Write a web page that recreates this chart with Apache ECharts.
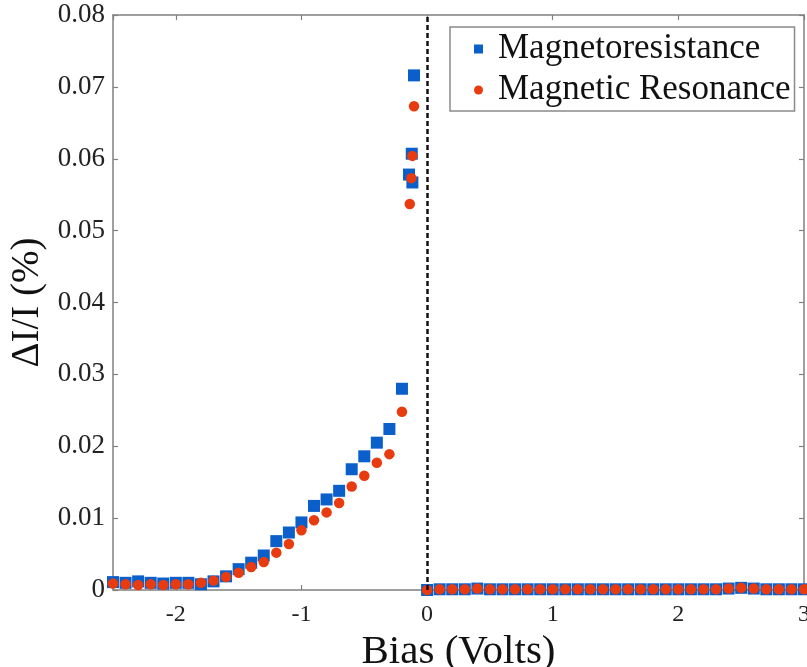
<!DOCTYPE html>
<html><head><meta charset="utf-8">
<script src="https://cdn.jsdelivr.net/npm/echarts@6/dist/echarts.min.js"></script>
<style>html,body{margin:0;padding:0;background:#fff}#c{width:807px;height:667px}</style>
</head><body><div id="c"></div>
<script>
const seriesNames = ['Magnetoresistance', 'Magnetic Resonance'];
const xTitle = 'Bias (Volts)';
const yTitle = 'ΔI/I (%)';
// negative bias, regular 0.1 V steps
const negBias = [-2.5,-2.4,-2.3,-2.2,-2.1,-2.0,-1.9,-1.8,-1.7,-1.6,-1.5,-1.4,-1.3,-1.2,-1.1,-1.0,-0.9,-0.8,-0.7,-0.6,-0.5,-0.4,-0.3,-0.2];
const mrNeg  = [0.0011,0.0010,0.0012,0.0010,0.0009,0.0010,0.0010,0.0008,0.0012,0.0019,0.0029,0.0038,0.0048,0.0068,0.0080,0.0094,0.0117,0.0126,0.0138,0.0168,0.0186,0.0205,0.0224,0.0280];
const resNeg = [0.0009,0.0008,0.0007,0.0008,0.0007,0.0008,0.0008,0.0010,0.0013,0.0018,0.0024,0.0032,0.0039,0.0052,0.0064,0.0083,0.0097,0.0108,0.0121,0.0144,0.0159,0.0177,0.0189,0.0248];
// points close to zero bias
const mrPeakBias  = [-0.104,-0.122,-0.144,-0.117];
const mrPeak      = [0.0716,0.0607,0.0578,0.0567];
const resPeakBias = [-0.104,-0.117,-0.125,-0.138];
const resPeak     = [0.0673,0.0604,0.0573,0.0537];
// positive bias
const posBias = [0,0.1,0.2,0.3,0.4,0.5,0.6,0.7,0.8,0.9,1.0,1.1,1.2,1.3,1.4,1.5,1.6,1.7,1.8,1.9,2.0,2.1,2.2,2.3,2.4,2.5,2.6,2.7,2.8,2.9,3.0];
const mrPos  = [0,0.0001,0.0001,0.0001,0.0002,0.0001,0.0001,0.0001,0.0001,0.0001,0.0001,0.0001,0.0001,0.0001,0.0001,0.0001,0.0001,0.0001,0.0001,0.0001,0.0001,0.0001,0.0001,0.0001,0.0002,0.0003,0.0002,0.0001,0.0001,0.0001,0.0001];
const resPos = [0,0.0001,0.0001,0.0001,0.0002,0.0001,0.0001,0.0001,0.0001,0.0001,0.0001,0.0001,0.0001,0.0001,0.0001,0.0001,0.0001,0.0001,0.0001,0.0001,0.0001,0.0001,0.0001,0.0001,0.0002,0.0003,0.0002,0.0001,0.0001,0.0001,0.0001];

const zip = (xs, ys) => xs.map((x, i) => [x, ys[i]]);
const mrData  = [].concat(zip(negBias, mrNeg), zip(mrPeakBias, mrPeak), zip(posBias, mrPos));
const resData = [].concat(zip(negBias, resNeg), zip(resPeakBias, resPeak), zip(posBias, resPos));

const FONT = 'Liberation Serif';
const AX = '#808080';
const BLUE = '#0a5fca', RED = '#e93b10';

const chart = echarts.init(document.getElementById('c'), null, {renderer: 'canvas'});
const xBase = {type: 'value', min: -2.5, max: 3, splitNumber: 5,
  axisLine: {show: true, onZero: false, lineStyle: {color: AX, width: 1.5}},
  axisTick: {show: true, inside: true, length: 5, lineStyle: {color: AX, width: 1.2}},
  splitLine: {show: false}};
const yBase = {type: 'value', min: 0, max: 0.08, interval: 0.01,
  axisLine: {show: true, onZero: false, lineStyle: {color: AX, width: 1.5}},
  axisTick: {show: true, inside: true, length: 5, lineStyle: {color: AX, width: 1.2}},
  splitLine: {show: false}};

chart.setOption({
  animation: false,
  backgroundColor: '#fff',
  grid: {left: 113, right: 3, top: 15, bottom: 77, containLabel: false, outerBoundsMode: 'none'},
  xAxis: [
    Object.assign({}, xBase, {position: 'bottom',
      name: xTitle, nameLocation: 'middle', nameGap: 33,
      nameTextStyle: {fontFamily: FONT, fontSize: 41, color: '#111'},
      axisLabel: {show: true, showMinLabel: false, margin: 13, fontFamily: FONT, fontSize: 24, color: '#222'}}),
    Object.assign({}, xBase, {position: 'top', axisLabel: {show: false}})
  ],
  yAxis: [
    Object.assign({}, yBase, {position: 'left',
      name: yTitle, nameLocation: 'middle', nameGap: 66, nameRotate: 90,
      nameTextStyle: {fontFamily: FONT, fontSize: 39, color: '#111'},
      axisLabel: {show: true, margin: 8, fontFamily: FONT, fontSize: 27, color: '#222',
        formatter: v => v === 0 ? '0' : v.toFixed(2)}}),
    Object.assign({}, yBase, {position: 'right', axisLabel: {show: false}})
  ],
  legend: {
    show: true, orient: 'vertical', left: 450, top: 27,
    padding: [4, 4, 3, 24],
    borderColor: '#8a8a8a', borderWidth: 1.5, backgroundColor: '#fff',
    itemWidth: 9, itemHeight: 9, itemGap: 5,
    textStyle: {fontFamily: FONT, fontSize: 35, color: '#111', lineHeight: 36, padding: [0, 0, 0, 10]},
    data: [
      {name: seriesNames[0], icon: 'rect'},
      {name: seriesNames[1], icon: 'circle'}
    ]
  },
  series: [
    {name: seriesNames[0], type: 'scatter', symbol: 'rect', symbolSize: 12,
      itemStyle: {color: BLUE, opacity: 1}, data: mrData, z: 2,
      markLine: {silent: true, symbol: ['none', 'none'], label: {show: false},
        lineStyle: {color: '#111', type: [5, 3], width: 2.5},
        data: [{xAxis: 0}]}},
    {name: seriesNames[1], type: 'scatter', symbol: 'circle', symbolSize: 10.5,
      itemStyle: {color: RED, opacity: 1}, data: resData, z: 3}
  ]
});
</script></body></html>
